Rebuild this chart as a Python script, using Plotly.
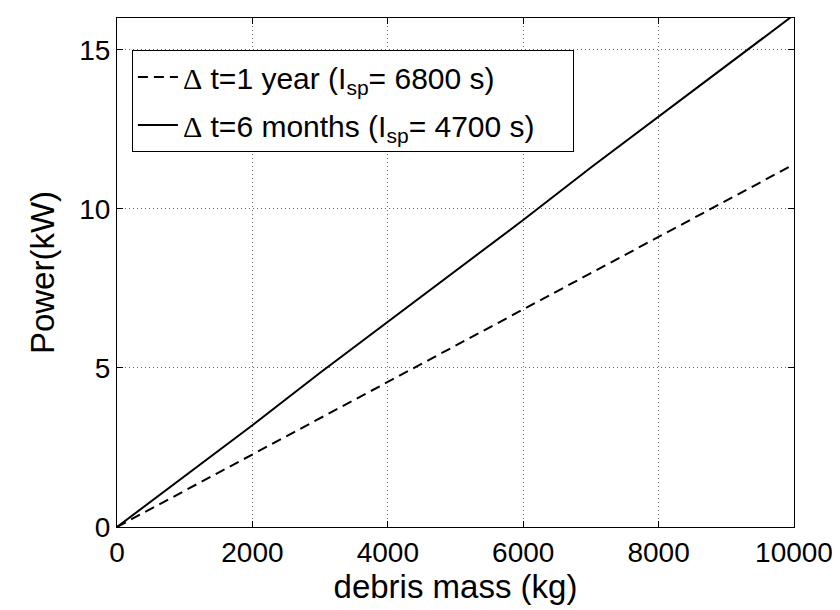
import plotly.graph_objects as go

# Data
mass_kg = [0, 1000, 2000, 3000, 4000, 5000, 6000, 7000, 8000, 9000, 10000]
power_6months = [0, 1.6, 3.2, 4.85, 6.45, 8.05, 9.65, 11.3, 12.9, 14.5, 16.1]
power_1year = [0, 1.14, 2.28, 3.42, 4.56, 5.7, 6.84, 7.98, 9.12, 10.26, 11.4]

x_ticks = [0, 2000, 4000, 6000, 8000, 10000]
y_ticks = [0, 5, 10, 15]

DELTA = '<span style="font-family:Liberation Serif, Times New Roman, serif">Δ</span>'
PAD = "\u00a0" * 4
name_1year = DELTA + " t=1 year (I<sub>sp</sub>= 6800 s)"
name_6months = DELTA + " t=6 months (I<sub>sp</sub>= 4700 s)" + PAD

FONT = "Liberation Sans, Arial, Helvetica, sans-serif"
FS_TICK = 28
FS_TITLE = 33
FS_LEG = 30

fig = go.Figure()
fig.add_trace(go.Scatter(
    x=mass_kg, y=power_1year, mode="lines", name=name_1year, legendgroup="a",
    line=dict(color="black", width=2, dash="10px,6px"),
))
fig.add_trace(go.Scatter(
    x=mass_kg, y=power_6months, mode="lines", name=name_6months, legendgroup="b",
    line=dict(color="black", width=2),
))

axis_common = dict(
    showline=True, linecolor="black", linewidth=1, mirror="ticks",
    ticks="inside", ticklen=6, tickcolor="black", tickwidth=1,
    showgrid=True, gridcolor="#666", gridwidth=1, griddash="1px,3px",
    zeroline=False,
    tickfont=dict(family=FONT, size=FS_TICK, color="black"),
)

fig.update_xaxes(
    range=[0, 10000], tickvals=x_ticks, ticktext=[str(v) for v in x_ticks],
    title=dict(text="debris mass (kg)", font=dict(family=FONT, size=FS_TITLE, color="black"), standoff=6),
    **axis_common,
)
fig.update_yaxes(
    range=[0, 16], tickvals=y_ticks, ticktext=[str(v) for v in y_ticks],
    title=dict(text="Power(kW)", font=dict(family=FONT, size=FS_TITLE, color="black"), standoff=14),
    **axis_common,
)

fig.update_layout(
    width=840, height=610,
    margin=dict(l=109, r=54, t=10, b=91),
    paper_bgcolor="white", plot_bgcolor="white",
    font=dict(family=FONT, size=FS_TICK, color="black"),
    showlegend=True,
    legend=dict(
        x=0.022, y=0.937, xanchor="left", yanchor="top",
        bgcolor="white", bordercolor="black", borderwidth=1,
        font=dict(family=FONT, size=FS_LEG, color="black"),
        itemwidth=40, tracegroupgap=6,
    ),
)

fig.write_html("out.html")
